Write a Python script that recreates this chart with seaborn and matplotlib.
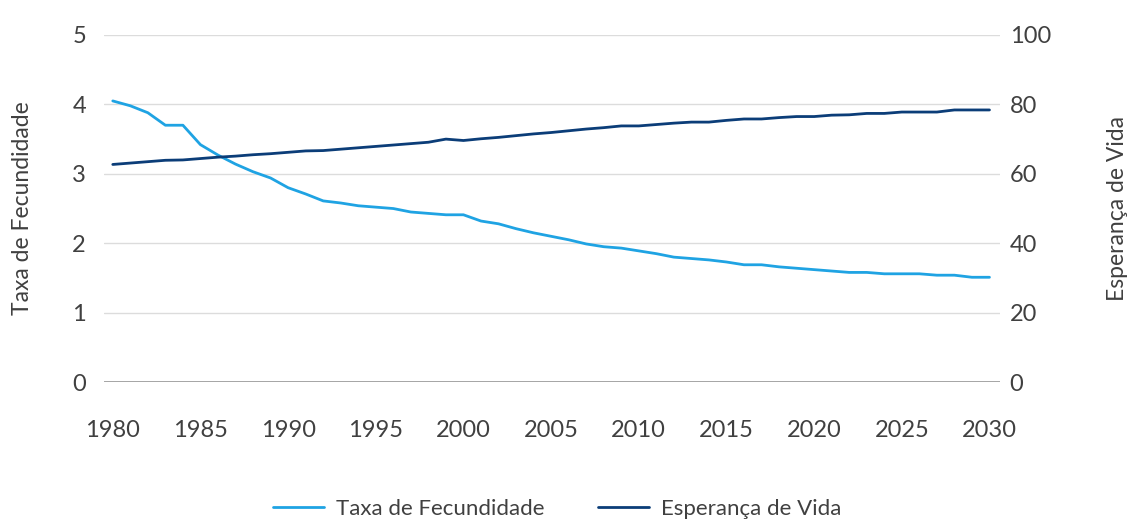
import pandas as pd
import matplotlib
matplotlib.use("Agg")
import matplotlib.pyplot as plt
import seaborn as sns

years = list(range(1980, 2031))

taxa_fecundidade = [
    4.05, 3.98, 3.88, 3.70, 3.70, 3.42, 3.27, 3.14, 3.03, 2.94,
    2.80, 2.71, 2.61, 2.58, 2.54, 2.52, 2.50, 2.45, 2.43, 2.41,
    2.41, 2.32, 2.28, 2.21, 2.15, 2.10, 2.05, 1.99, 1.95, 1.93,
    1.89, 1.85, 1.80, 1.78, 1.76, 1.73, 1.69, 1.69, 1.66, 1.64,
    1.62, 1.60, 1.58, 1.58, 1.56, 1.56, 1.56, 1.54, 1.54, 1.51,
    1.51,
]

esperanca_vida = [
    62.7, 63.1, 63.5, 63.9, 64.0, 64.4, 64.8, 65.1, 65.5, 65.8,
    66.2, 66.6, 66.7, 67.1, 67.5, 67.9, 68.3, 68.7, 69.1, 70.0,
    69.6, 70.1, 70.5, 71.0, 71.5, 71.9, 72.4, 72.9, 73.3, 73.8,
    73.8, 74.2, 74.6, 74.9, 74.9, 75.4, 75.8, 75.8, 76.2, 76.5,
    76.5, 76.9, 77.0, 77.4, 77.4, 77.8, 77.8, 77.8, 78.4, 78.4,
    78.4,
]

left_ticks = [0, 1, 2, 3, 4, 5]
right_ticks = [0, 20, 40, 60, 80, 100]
x_ticks = list(range(1980, 2031, 5))

df = pd.DataFrame({"ano": years,
                   "Taxa de Fecundidade": taxa_fecundidade,
                   "Esperança de Vida": esperanca_vida})

sns.set_style("white")
plt.rcParams["font.family"] = ["Lato", "DejaVu Sans"]

light_blue = "#1fa3e3"
navy = "#0b3d78"
text_col = "#404040"

fig = plt.figure(figsize=(11.33, 5.22), dpi=100)
ax = fig.add_axes([0.0918, 0.268, 0.7908, 0.665])
ax2 = ax.twinx()

sns.lineplot(data=df, x="ano", y="Taxa de Fecundidade", ax=ax,
             color=light_blue, linewidth=2.0, label="Taxa de Fecundidade",
             legend=False, zorder=3)
sns.lineplot(data=df, x="ano", y="Esperança de Vida", ax=ax2,
             color=navy, linewidth=2.0, label="Esperança de Vida",
             legend=False, zorder=3)

ax.set_xlim(1979.5, 2030.6)
ax.set_ylim(0, 5)
ax2.set_ylim(0, 100)
ax.set_yticks(left_ticks)
ax2.set_yticks(right_ticks)
ax.set_xticks(x_ticks)

ax.grid(axis="y", color="#dcdcdc", linewidth=1.0, zorder=0)
ax.grid(axis="x", visible=False)
ax2.grid(False)
ax.axhline(0, color="#8f8f8f", linewidth=1.1, zorder=2)

for a in (ax, ax2):
    for s in a.spines.values():
        s.set_visible(False)

ax.tick_params(axis="y", length=0, pad=13, labelsize=17, labelcolor=text_col)
ax.tick_params(axis="x", length=0, pad=27, labelsize=17, labelcolor=text_col)
ax2.tick_params(axis="y", length=0, pad=7, labelsize=17, labelcolor=text_col)

ax.set_xlabel("")
ax.set_ylabel("Taxa de Fecundidade", fontsize=16.5, color=text_col, labelpad=28)
ax2.set_ylabel("Esperança de Vida", fontsize=16.5, color=text_col, labelpad=40)

h1, l1 = ax.get_legend_handles_labels()
h2, l2 = ax2.get_legend_handles_labels()
fig.legend(h1 + h2, l1 + l2, loc="center", bbox_to_anchor=(0.492, 0.025),
           ncol=2, frameon=False, fontsize=16, handlelength=2.3,
           columnspacing=2.4, handletextpad=0.55, labelcolor=text_col)

fig.savefig("out.png", dpi=100)
